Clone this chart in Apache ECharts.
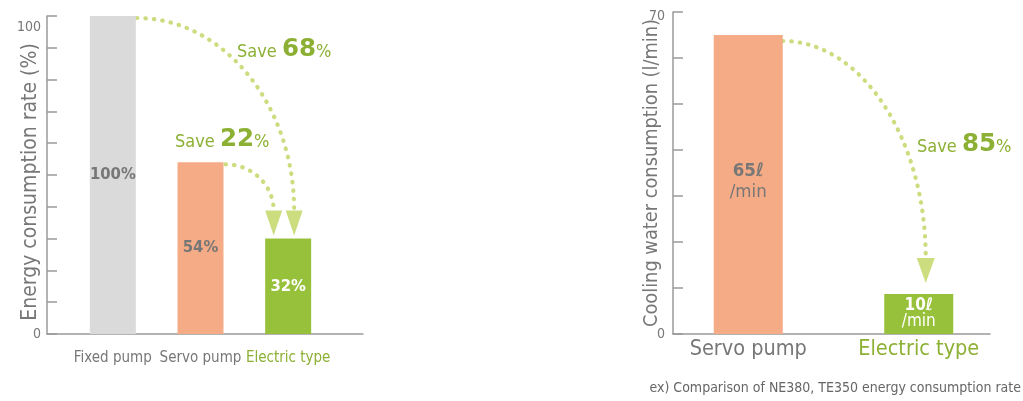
<!DOCTYPE html>
<html><head><meta charset="utf-8">
<script src="https://cdn.jsdelivr.net/npm/echarts@6/dist/echarts.min.js"></script>
<style>html,body{margin:0;padding:0;background:#fff}#c{width:1023px;height:401px}</style>
</head><body><div id="c"></div>
<script>
// ---- data ----
const energyCategories = ['Fixed pump', 'Servo pump', 'Electric type'];
const energyValues = [100, 54, 30];
const energyLabels = ['100%', '54%', '32%'];
const energyTicks = [0, 100];
const energySavings = ['68', '22'];

const waterCategories = ['Servo pump', 'Electric type'];
const waterValues = [65, 8.7];
const waterLabels = [['65ℓ', '/min'], ['10ℓ', '/min']];
const waterTicks = [0, 70];
const waterSavings = ['85'];

const footnote = 'ex) Comparison of NE380, TE350 energy consumption rate';

// ---- styles ----
const FONT = "'DejaVu Sans Condensed', 'DejaVu Sans'";
const NUMFONT = "'DejaVu Sans'";
const GRAY = '#777777';
const AXIS = '#9a9a9a';
const GREEN_TXT = '#8cb033';
const ARROW = '#cbdd7f';
const energyColors = ['#dadada', '#f5ab86', '#97c13a'];
const waterColors = ['#f5ab86', '#97c13a'];

const chart = echarts.init(document.getElementById('c'), null, { renderer: 'canvas' });

function catData(cats) {
  return cats.map((c, i) => ({
    value: c,
    textStyle: { color: i === cats.length - 1 ? GREEN_TXT : GRAY }
  }));
}

function tickFormatter(ticks) {
  return v => {
    if (!ticks.includes(v)) return '';
    return v === ticks[ticks.length - 1] ? '{t|' + v + '}' : String(v);
  };
}

function valueAxis(grid, max, ticks, name, nameSize, nameGap, namePad, topPad, margin) {
  return { gridIndex: grid, type: 'value', min: 0, max: max, interval: 10,
    axisLine: { show: true, lineStyle: { color: AXIS, width: 1.5 } },
    axisTick: { show: true, inside: true, length: 10, lineStyle: { color: AXIS, width: 1.5 } },
    splitLine: { show: false },
    axisLabel: { formatter: tickFormatter(ticks), margin: margin, color: GRAY, fontSize: 14, fontFamily: FONT,
      showMinLabel: true, showMaxLabel: true,
      rich: { t: { fontSize: 14, color: GRAY, fontFamily: FONT, padding: [topPad, 0, 0, 0] } } },
    name: name, nameLocation: 'middle', nameGap: nameGap, nameMoveOverlap: false,
    nameTextStyle: { fontSize: nameSize, color: GRAY, fontFamily: FONT, padding: namePad } };
}

const option = {
  animation: false,
  textStyle: { fontFamily: FONT },
  grid: [
    { left: 47, top: 16, width: 316, height: 318, outerBoundsMode: 'none' },
    { left: 69, top: 16, width: 263, height: 318, outerBoundsMode: 'none' },
    { left: 673, top: 12, width: 317, height: 322, outerBoundsMode: 'none' },
    { left: 663, top: 12, width: 341, height: 322, outerBoundsMode: 'none' }
  ],
  xAxis: [
    { gridIndex: 0, type: 'category', data: energyCategories,
      axisLine: { lineStyle: { color: AXIS, width: 1.5 } }, axisTick: { show: false }, axisLabel: { show: false } },
    { gridIndex: 1, type: 'category', data: catData(energyCategories),
      axisLine: { show: false }, axisTick: { show: false },
      axisLabel: { fontSize: 15, margin: 17, fontFamily: FONT, interval: 0 } },
    { gridIndex: 2, type: 'category', data: waterCategories,
      axisLine: { lineStyle: { color: AXIS, width: 1.5 } }, axisTick: { show: false }, axisLabel: { show: false } },
    { gridIndex: 3, type: 'category', data: catData(waterCategories),
      axisLine: { show: false }, axisTick: { show: false },
      axisLabel: { fontSize: 21.5, margin: 4, fontFamily: FONT, interval: 0 } }
  ],
  yAxis: [
    valueAxis(0, 100, energyTicks, 'Energy consumption rate (%)', 21, 6, [0, 14, 0, 0], 22, 6),
    { gridIndex: 1, type: 'value', min: 0, max: 100, show: false },
    valueAxis(2, 70, waterTicks, 'Cooling water consumption (l/min)', 19.8, 11, 0, 8, 8),
    { gridIndex: 3, type: 'value', min: 0, max: 70, show: false }
  ],
  series: [
    { type: 'bar', xAxisIndex: 1, yAxisIndex: 1, barWidth: 46,
      data: energyValues.map((v, i) => ({ value: v, itemStyle: { color: energyColors[i] },
        label: { color: i === energyValues.length - 1 ? '#ffffff' : GRAY } })),
      label: { show: true, position: 'inside', fontSize: 16.5, fontWeight: 'bold', fontFamily: FONT,
        formatter: p => energyLabels[p.dataIndex] } },
    { type: 'bar', xAxisIndex: 3, yAxisIndex: 3, barWidth: 69,
      data: waterValues.map((v, i) => {
        const last = i === waterValues.length - 1;
        const c = last ? '#ffffff' : GRAY;
        const fs = last ? 17 : 18.5, lh = last ? 16 : 21;
        return { value: v, itemStyle: { color: waterColors[i] },
          label: { offset: last ? [0, 0] : [0, -3],
            rich: { a: { fontSize: fs, fontWeight: 'bold', color: c, lineHeight: lh, fontFamily: FONT },
                    b: { fontSize: fs, color: c, lineHeight: lh, fontFamily: FONT } } } };
      }),
      label: { show: true, position: 'inside',
        formatter: p => '{a|' + waterLabels[p.dataIndex][0] + '}\n{b|' + waterLabels[p.dataIndex][1] + '}' } }
  ]
};
chart.setOption(option);

// ---- annotations: dotted arrows computed from bar positions ----
function px(g, cat, val) { return chart.convertToPixel({ xAxisIndex: g, yAxisIndex: g }, [cat, val]); }

function arrow(start, headX, tipY, headH, headW) {
  const ex = headX, ey = tipY - headH;
  const k = 0.55;
  return [
    { type: 'bezierCurve', silent: true,
      shape: { x1: start[0], y1: start[1], x2: ex, y2: ey,
        cpx1: start[0] + k * (ex - start[0]), cpy1: start[1],
        cpx2: ex, cpy2: ey - k * (ey - start[1]) },
      style: { stroke: ARROW, lineWidth: 4.2, fill: null, lineCap: 'round', lineDash: [0.5, 8] } },
    { type: 'polygon', silent: true,
      shape: { points: [[headX - headW / 2, ey], [headX + headW / 2, ey], [headX, tipY]] },
      style: { fill: ARROW } }
  ];
}

function saveText(x, baseline, num) {
  return { type: 'text', silent: true,
    style: { x: x, y: baseline + 5, text: '{s|Save }{n|' + num + '}{p|%}', align: 'left', verticalAlign: 'bottom',
      rich: {
        s: { fontSize: 18, fill: GREEN_TXT, fontFamily: FONT, verticalAlign: 'bottom', padding: [0, 0, 1, 0] },
        n: { fontSize: 24.5, fontWeight: 'bold', fill: GREEN_TXT, fontFamily: NUMFONT, verticalAlign: 'bottom' },
        p: { fontSize: 18, fill: GREEN_TXT, fontFamily: FONT, verticalAlign: 'bottom', padding: [0, 0, 1, 0] }
      } } };
}

const eHalf = 23, wHalf = 34.5;
const fixedTop = px(1, energyCategories[0], energyValues[0]);
const servoTop = px(1, energyCategories[1], energyValues[1]);
const elecTop = px(1, energyCategories[2], energyValues[2]);
const wServoTop = px(3, waterCategories[0], waterValues[0]);
const wElecTop = px(3, waterCategories[1], waterValues[1]);

const graphics = [].concat(
  arrow([fixedTop[0] + eHalf + 1, fixedTop[1] + 2], elecTop[0] + 6, elecTop[1] - 3, 25, 17),
  arrow([servoTop[0] + eHalf + 2, servoTop[1] + 2], elecTop[0] - 14.5, elecTop[1] - 3, 25, 17),
  arrow([wServoTop[0] + wHalf, wServoTop[1] + 6], wElecTop[0] + 7, wElecTop[1] - 11, 25, 18),
  [
    saveText(237, 57, energySavings[0]),
    saveText(175, 147, energySavings[1]),
    saveText(917, 152, waterSavings[0]),
    { type: 'text', silent: true,
      style: { x: 1021, y: 388, text: footnote, align: 'right', verticalAlign: 'middle',
        fontSize: 14, fontFamily: FONT, fill: '#666666' } }
  ]
);
chart.setOption({ graphic: graphics });
</script>
</body></html>
